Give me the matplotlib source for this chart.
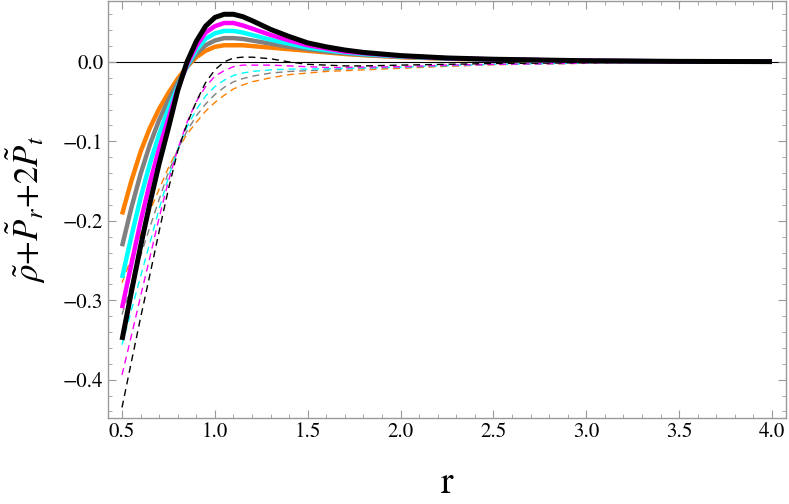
import numpy as np
import matplotlib
matplotlib.use("Agg")
import matplotlib.pyplot as plt
from matplotlib.ticker import MultipleLocator

plt.rcParams['font.family'] = ['STIXGeneral', 'DejaVu Serif']
plt.rcParams['mathtext.fontset'] = 'stix'

# radial grid
r = [0.5, 0.55, 0.6, 0.65, 0.7, 0.75, 0.8, 0.85, 0.9, 0.95, 1.0, 1.05, 1.1, 1.15,
     1.2, 1.3, 1.4, 1.5, 1.6, 1.7, 1.8, 2.0, 2.25, 2.5, 3.0, 3.5, 4.0]

# solid curves
orange_solid = [-0.192, -0.150, -0.113, -0.083, -0.059, -0.039, -0.021, -0.006, 0.006, 0.014,
                0.019, 0.021, 0.021, 0.021, 0.020, 0.018, 0.016, 0.014, 0.012, 0.010,
                0.0085, 0.006, 0.004, 0.0028, 0.0013, 0.0007, 0.0004]
gray_solid = [-0.232, -0.184, -0.141, -0.104, -0.073, -0.048, -0.026, -0.006, 0.010, 0.021,
              0.027, 0.030, 0.030, 0.029, 0.027, 0.023, 0.019, 0.016, 0.013, 0.011,
              0.009, 0.0065, 0.0043, 0.003, 0.0014, 0.0007, 0.0004]
cyan_solid = [-0.272, -0.220, -0.171, -0.128, -0.091, -0.059, -0.031, -0.005, 0.015, 0.029,
              0.036, 0.039, 0.039, 0.037, 0.034, 0.028, 0.023, 0.018, 0.015, 0.012,
              0.010, 0.007, 0.0045, 0.003, 0.0014, 0.0007, 0.0004]
magenta_solid = [-0.310, -0.255, -0.201, -0.152, -0.109, -0.071, -0.034, -0.003, 0.020, 0.037,
                 0.045, 0.049, 0.049, 0.046, 0.042, 0.034, 0.027, 0.021, 0.017, 0.013,
                 0.011, 0.0075, 0.0047, 0.0032, 0.0015, 0.0007, 0.0004]
black_solid = [-0.350, -0.290, -0.232, -0.178, -0.128, -0.083, -0.036, 0.000, 0.026, 0.045,
               0.056, 0.060, 0.060, 0.057, 0.052, 0.041, 0.032, 0.024, 0.019, 0.015,
               0.012, 0.008, 0.005, 0.0034, 0.0015, 0.0007, 0.0004]

# dashed curves
orange_dash = [-0.278, -0.247, -0.217, -0.188, -0.160, -0.133, -0.110, -0.091, -0.076, -0.062,
               -0.051, -0.042, -0.034, -0.029, -0.025, -0.020, -0.016, -0.014, -0.012, -0.011,
               -0.010, -0.008, -0.0055, -0.0035, -0.0017, -0.0008, -0.0004]
gray_dash = [-0.318, -0.281, -0.244, -0.208, -0.173, -0.139, -0.110, -0.087, -0.068, -0.053,
             -0.041, -0.032, -0.025, -0.021, -0.018, -0.014, -0.012, -0.011, -0.010, -0.009,
             -0.008, -0.007, -0.005, -0.0032, -0.0016, -0.0008, -0.0004]
cyan_dash = [-0.356, -0.313, -0.270, -0.228, -0.185, -0.145, -0.110, -0.082, -0.060, -0.043,
             -0.031, -0.023, -0.017, -0.014, -0.012, -0.010, -0.009, -0.009, -0.0085, -0.008,
             -0.0075, -0.0065, -0.0045, -0.003, -0.0015, -0.0008, -0.0004]
magenta_dash = [-0.394, -0.345, -0.295, -0.246, -0.196, -0.150, -0.110, -0.076, -0.050, -0.031,
                -0.018, -0.011, -0.006, -0.004, -0.004, -0.004, -0.005, -0.006, -0.007, -0.007,
                -0.0065, -0.006, -0.004, -0.003, -0.0015, -0.0008, -0.0004]
black_dash = [-0.435, -0.378, -0.322, -0.268, -0.213, -0.160, -0.112, -0.078, -0.050, -0.026,
              -0.010, 0.000, 0.005, 0.006, 0.006, 0.004, 0.000, -0.003, -0.004, -0.005,
              -0.005, -0.004, -0.003, -0.002, -0.001, -0.0005, -0.0003]

colors = ['#FF8000', '#808080', '#00FFFF', '#FF00FF', 'black']
solids = [orange_solid, gray_solid, cyan_solid, magenta_solid, black_solid]
dashes = [orange_dash, gray_dash, cyan_dash, magenta_dash, black_dash]

fig = plt.figure(figsize=(7.89, 5.04), dpi=100)
ax = fig.add_axes([0.137, 0.171, 0.859, 0.827])

ax.axhline(0, color='black', lw=0.8, zorder=1)

for c, y in zip(colors, dashes):
    ax.plot(r, y, color=c, lw=1.0, dashes=(5, 3.5), zorder=2)
for c, y in zip(colors, solids):
    lw = 3.6 if c == 'black' else 3.2
    ax.plot(r, y, color=c, lw=lw, solid_capstyle='butt', solid_joinstyle='round', zorder=3)

ax.set_xlim(0.425, 4.075)
ax.set_ylim(-0.448, 0.0767)
ax.xaxis.set_major_locator(MultipleLocator(0.5))
ax.xaxis.set_minor_locator(MultipleLocator(0.1))
ax.yaxis.set_major_locator(MultipleLocator(0.1))
ax.yaxis.set_minor_locator(MultipleLocator(0.02))
ax.xaxis.set_major_formatter(plt.FuncFormatter(lambda v, p: f"{v:.1f}"))
ax.yaxis.set_major_formatter(plt.FuncFormatter(lambda v, p: f"{v:.1f}".replace('-', '\u2212') if abs(v) > 1e-9 else "0.0"))

for s in ax.spines.values():
    s.set_color('#999999')
    s.set_linewidth(1.0)
ax.tick_params(which='both', direction='in', top=True, right=True, color='#999999', labelsize=15)
ax.tick_params(which='major', length=6)
ax.tick_params(which='minor', length=3)

ax.set_xlabel('r', fontsize=27)
ax.xaxis.set_label_coords(0.5, -0.115)
ax.set_ylabel(r'$\tilde{\rho}$+$\tilde{P}_r$+2$\tilde{P}_t$', fontsize=25)
ax.yaxis.set_label_coords(-0.088, 0.5)

fig.savefig('out.png', dpi=100)
